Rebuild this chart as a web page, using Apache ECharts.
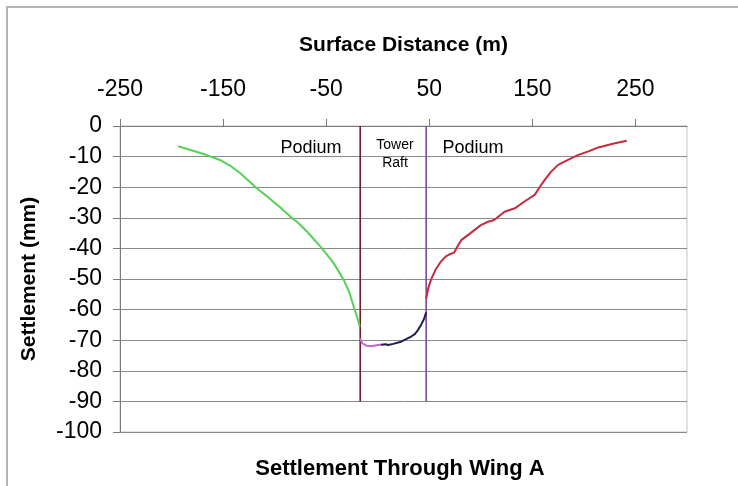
<!DOCTYPE html>
<html>
<head>
<meta charset="utf-8">
<script src="https://cdn.jsdelivr.net/npm/echarts@6/dist/echarts.min.js"></script>
<style>
  html, body { margin: 0; padding: 0; background: #fff; }
  #chart { width: 738px; height: 486px; }
</style>
</head>
<body>
<div id="chart"></div>
<script>
// Surface distance (m) vs settlement (mm) along the section through Wing A
const podiumWest = [
  [-193.5, -6.6], [-180, -8], [-166, -9.5], [-153, -11.1], [-143, -13],
  [-133, -15.5], [-125, -18], [-117, -20.4], [-107, -23.1], [-95, -26.5],
  [-84, -29.8], [-76, -32], [-68.6, -34.5], [-62, -37], [-55.6, -39.4],
  [-48, -42.5], [-42.7, -44.9], [-37, -48], [-33, -50.3], [-28, -54],
  [-23.3, -59], [-20, -62.5], [-17.3, -65.6]
];
const raftWest = [
  [-17.3, -69.4], [-15, -71], [-11, -71.8], [-5, -71.9], [0, -71.6], [3, -71.5]
];
const raftEast = [
  [3, -71.5], [8, -71.3], [10, -71.6], [15, -71.2], [22.7, -70.5], [28, -69.6],
  [32.4, -68.8], [36, -68], [39, -66.7], [42, -65], [45, -63], [47, -60.9]
];
const podiumEast = [
  [47, -56.5], [49, -53], [51.6, -50.3], [56, -47], [61.3, -44.3], [66, -42.6],
  [69.3, -42], [74, -41.4], [78, -39], [81, -37.3], [90, -35], [100, -32.4],
  [107, -31.3], [113, -30.7], [123, -28], [133, -26.9], [143, -24.5],
  [152.3, -22.5], [157, -20], [162, -17.6], [168, -15], [175, -12.7],
  [185, -11], [194, -9.5], [205, -8.2], [214, -7], [228, -5.8], [241.5, -4.8]
];
// Tower raft edges
const raftEdgeWest = [[-17, 0], [-17, -90]];
const raftEdgeEast = [[47, 0], [47, -90]];
const xTicks = [-250, -150, -50, 50, 150, 250];

const FONT = '"Liberation Sans", Arial, sans-serif';
const chart = echarts.init(document.getElementById('chart'), null, { renderer: 'canvas' });

function line(data, color, width) {
  return {
    type: 'line', data: data, showSymbol: false, symbol: 'none',
    smooth: false, silent: true,
    lineStyle: { color: color, width: width }
  };
}

chart.setOption({
  animation: false,
  backgroundColor: '#ffffff',
  grid: {
    left: 120, right: 51, top: 126, bottom: 54,
    show: true, borderColor: '#c4c4c4', borderWidth: 1
  },
  xAxis: {
    type: 'value', position: 'top',
    min: -250, max: 300, interval: 100,
    name: 'Surface Distance (m)', nameLocation: 'middle', nameGap: 70,
    nameTextStyle: { fontFamily: FONT, fontWeight: 'bold', fontSize: 21, color: '#000' },
    axisLine: { show: true, onZero: false, lineStyle: { color: '#7a7a7a', width: 1 } },
    axisTick: { show: true, inside: false, length: 7, customValues: xTicks,
                lineStyle: { color: '#7a7a7a' } },
    axisLabel: { fontFamily: FONT, fontSize: 23, color: '#000', margin: 25,
                 customValues: xTicks },
    splitLine: { show: false }
  },
  yAxis: {
    type: 'value', min: -100, max: 0, interval: 10,
    name: 'Settlement (mm)', nameLocation: 'middle', nameGap: 80, nameRotate: 90,
    nameTextStyle: { fontFamily: FONT, fontWeight: 'bold', fontSize: 21, color: '#000' },
    axisLine: { show: true, onZero: false, lineStyle: { color: '#7a7a7a', width: 1 } },
    axisTick: { show: true, length: 7, lineStyle: { color: '#7a7a7a' } },
    axisLabel: { fontFamily: FONT, fontSize: 23, color: '#000', margin: 18 },
    splitLine: { show: true, lineStyle: { color: '#8a8a8a', width: 1 } }
  },
  series: [
    line(raftEdgeWest, '#6e1f2e', 1.6),
    line(raftEdgeEast, '#7d4a9c', 1.6),
    line(podiumWest, '#55d255', 2),
    line(raftWest, '#c464d4', 2),
    line(raftEast, '#1e1e4e', 2),
    line(podiumEast, '#c62a3c', 2)
  ],
  graphic: [
    {
      type: 'rect', silent: true, z: 0,
      shape: { x: 7, y: 7, width: 800, height: 600 },
      style: { fill: 'none', stroke: '#b4b4b4', lineWidth: 2 }
    },
    {
      type: 'text', x: 311, y: 148, z: 10,
      style: { text: 'Podium', font: '18px ' + FONT, fill: '#000',
               textAlign: 'center', textVerticalAlign: 'middle' }
    },
    {
      type: 'text', x: 473, y: 148, z: 10,
      style: { text: 'Podium', font: '18px ' + FONT, fill: '#000',
               textAlign: 'center', textVerticalAlign: 'middle' }
    },
    {
      type: 'text', x: 395, y: 154, z: 10,
      style: { text: 'Tower\nRaft', font: '14px ' + FONT, fill: '#000',
               lineHeight: 18, align: 'center', verticalAlign: 'middle',
               textAlign: 'center', textVerticalAlign: 'middle' }
    },
    {
      type: 'text', x: 400, y: 469, z: 10,
      style: { text: 'Settlement Through Wing A', font: 'bold 22px ' + FONT, fill: '#000',
               textAlign: 'center', textVerticalAlign: 'middle' }
    }
  ]
});
</script>
</body>
</html>
